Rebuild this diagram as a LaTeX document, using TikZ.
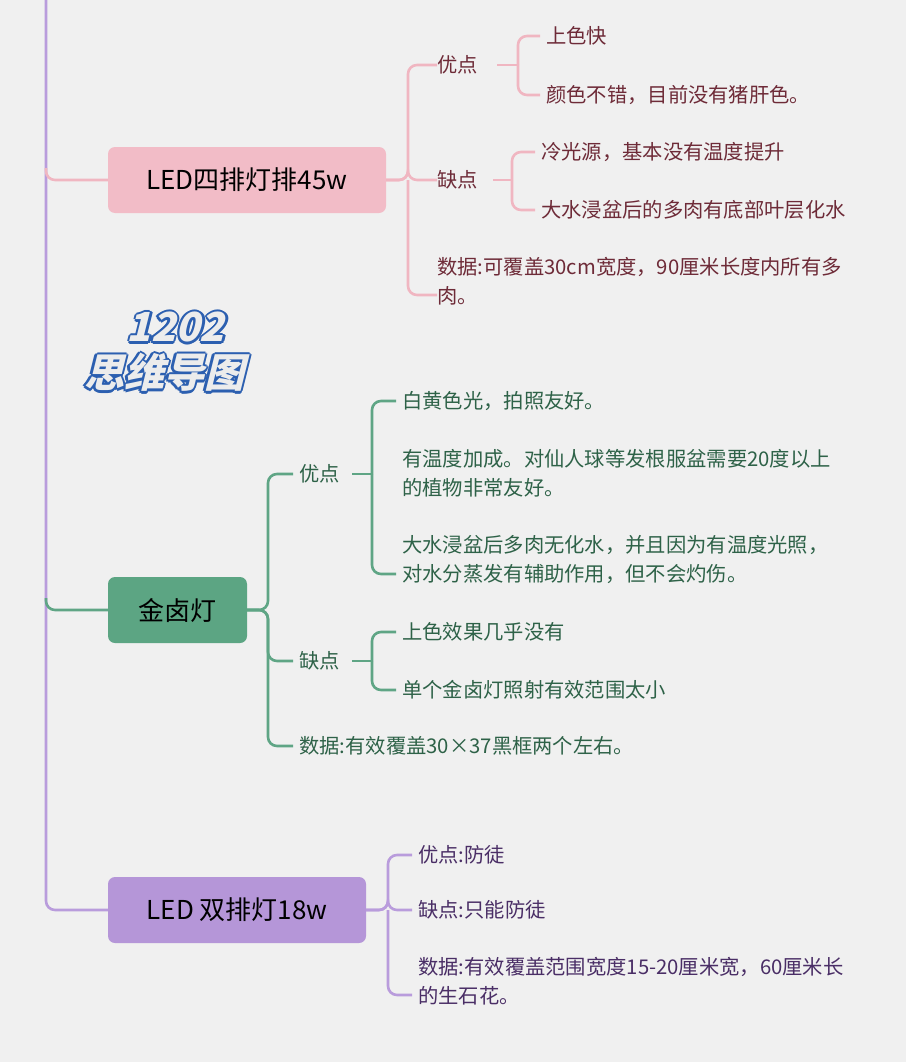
\documentclass[tikz,border=0pt]{standalone}
\usepackage{fontspec}
\setmainfont{Noto Sans CJK SC}
\usetikzlibrary{positioning}
\definecolor{bgc}{HTML}{F0F0F0}
\definecolor{pinkbox}{HTML}{F2BCC7}
\definecolor{pinkline}{HTML}{F0B6C1}
\definecolor{pinktext}{HTML}{6E2B38}
\definecolor{greenbox}{HTML}{5CA583}
\definecolor{greenline}{HTML}{5FA585}
\definecolor{greentext}{HTML}{2E6248}
\definecolor{purplebox}{HTML}{B596D8}
\definecolor{purpleline}{HTML}{B99CDC}
\definecolor{purpletext}{HTML}{4A2E66}
\definecolor{markblue}{HTML}{2C5FB0}
\tikzset{
  topic/.style={rounded corners=7pt, minimum height=66pt, inner xsep=0pt,
    font=\fontsize{26}{30}\selectfont, text=black},
  item/.style={anchor=west, inner sep=0pt, align=left,
    font=\fontsize{20.3}{29}\selectfont},
  link/.style={line width=2.6pt, rounded corners=9pt},
}
\begin{document}
\begin{tikzpicture}[x=1pt, y=-1pt]
\fill[bgc] (0,0) rectangle (906,1062);
\useasboundingbox (0,0) rectangle (906,1062);
% main topics
\node[topic, fill=pinkbox, minimum width=278pt] (led4) at (247,180) {LED四排灯排45w};
\node[topic, fill=greenbox, minimum width=139pt] (mh) at (177.5,610) {金卤灯};
\node[topic, fill=purplebox, minimum width=258pt] (led2) at (237,910) {LED 双排灯18w};
% trunk
\draw[link, purpleline] (46,0) |- (led2.west);
\draw[link, pinkline] (46,168) |- (led4.west);
\draw[link, greenline] (46,598) |- (mh.west);
% LED four rows
\begin{scope}[pinktext]
\node[item] (p1) at (437,65) {优点};
\node[item] (p2) at (437,180) {缺点};
\node[item, text width=460pt] (p3) at (437,281) {数据:可覆盖30cm宽度，90厘米长度内所有多\\肉。};
\node[item] (p11) at (546,36) {上色快};
\node[item] (p12) at (546,95) {颜色不错，目前没有猪肝色。};
\node[item] (p21) at (541,152) {冷光源，基本没有温度提升};
\node[item] (p22) at (541,210) {大水浸盆后的多肉有底部叶层化水};
\end{scope}
\coordinate (pj) at (408,180);
\foreach \t in {p1,p2} \draw[link, pinkline] (led4.east) -- (pj) |- (\t.west);
\draw[link, pinkline] (pj) |- ([yshift=-14pt]p3.west);
\coordinate (pj1) at (518,65);
\draw[link, pinkline] (497,65) -- (pj1);
\foreach \t in {p11,p12} \draw[link, pinkline] (pj1) |- ([xshift=-6pt]\t.west);
\coordinate (pj2) at (512,180);
\draw[link, pinkline] (493,180) -- (pj2);
\foreach \t in {p21,p22} \draw[link, pinkline] (pj2) |- ([xshift=-6pt]\t.west);
% metal halide
\begin{scope}[greentext]
\node[item] (g1) at (299,474) {优点};
\node[item] (g2) at (299,661) {缺点};
\node[item] (g3) at (299,746) {数据:有效覆盖30×37黑框两个左右。};
\node[item] (g11) at (402,401) {白黄色光，拍照友好。};
\node[item] (g12) at (402,473) {有温度加成。对仙人球等发根服盆需要20度以上\\的植物非常友好。};
\node[item] (g13) at (402,560) {大水浸盆后多肉无化水，并且因为有温度光照，\\对水分蒸发有辅助作用，但不会灼伤。};
\node[item] (g21) at (402,632) {上色效果几乎没有};
\node[item] (g22) at (402,690) {单个金卤灯照射有效范围太小};
\end{scope}
\coordinate (gj) at (268,610);
\foreach \t in {g1,g2,g3} \draw[link, greenline] (mh.east) -- (gj) |- ([xshift=-6pt]\t.west);
\coordinate (gj1) at (372,474);
\draw[link, greenline] (352,474) -- (gj1);
\foreach \t in {g11} \draw[link, greenline] (gj1) |- ([xshift=-6pt]\t.west);
\draw[link, greenline] (gj1) |- ([xshift=-6pt,yshift=-14pt]g13.west);
\coordinate (gj2) at (372,661);
\draw[link, greenline] (352,661) -- (gj2);
\foreach \t in {g21,g22} \draw[link, greenline] (gj2) |- ([xshift=-6pt]\t.west);
% LED two rows
\begin{scope}[purpletext]
\node[item] (v1) at (418,855) {优点:防徒};
\node[item] (v2) at (418,910) {缺点:只能防徒};
\node[item] (v3) at (418,981) {数据:有效覆盖范围宽度15-20厘米宽，60厘米长\\的生石花。};
\end{scope}
\coordinate (vj) at (388,910);
\foreach \t in {v1,v2} \draw[link, purpleline] (led2.east) -- (vj) |- ([xshift=-6pt]\t.west);
\draw[link, purpleline] (vj) |- ([xshift=-6pt,yshift=-14pt]v3.west);
% watermark
\foreach \dx/\dy in {-2.5/0,2.5/0,0/-2.5,0/2.5,-1.8/-1.8,1.8/1.8,-1.8/1.8,1.8/-1.8}
  \node[align=center, font=\bfseries\fontsize{40}{46}\selectfont, text=markblue, xslant=0.25]
    at ([xshift=\dx pt, yshift=\dy pt]173,352) {1202\\思维导图};
\node[align=center, font=\bfseries\fontsize{40}{46}\selectfont, text=white!85!gray, xslant=0.25]
  (mark) at (173,352) {1202\\思维导图};
\end{tikzpicture}
\end{document}
